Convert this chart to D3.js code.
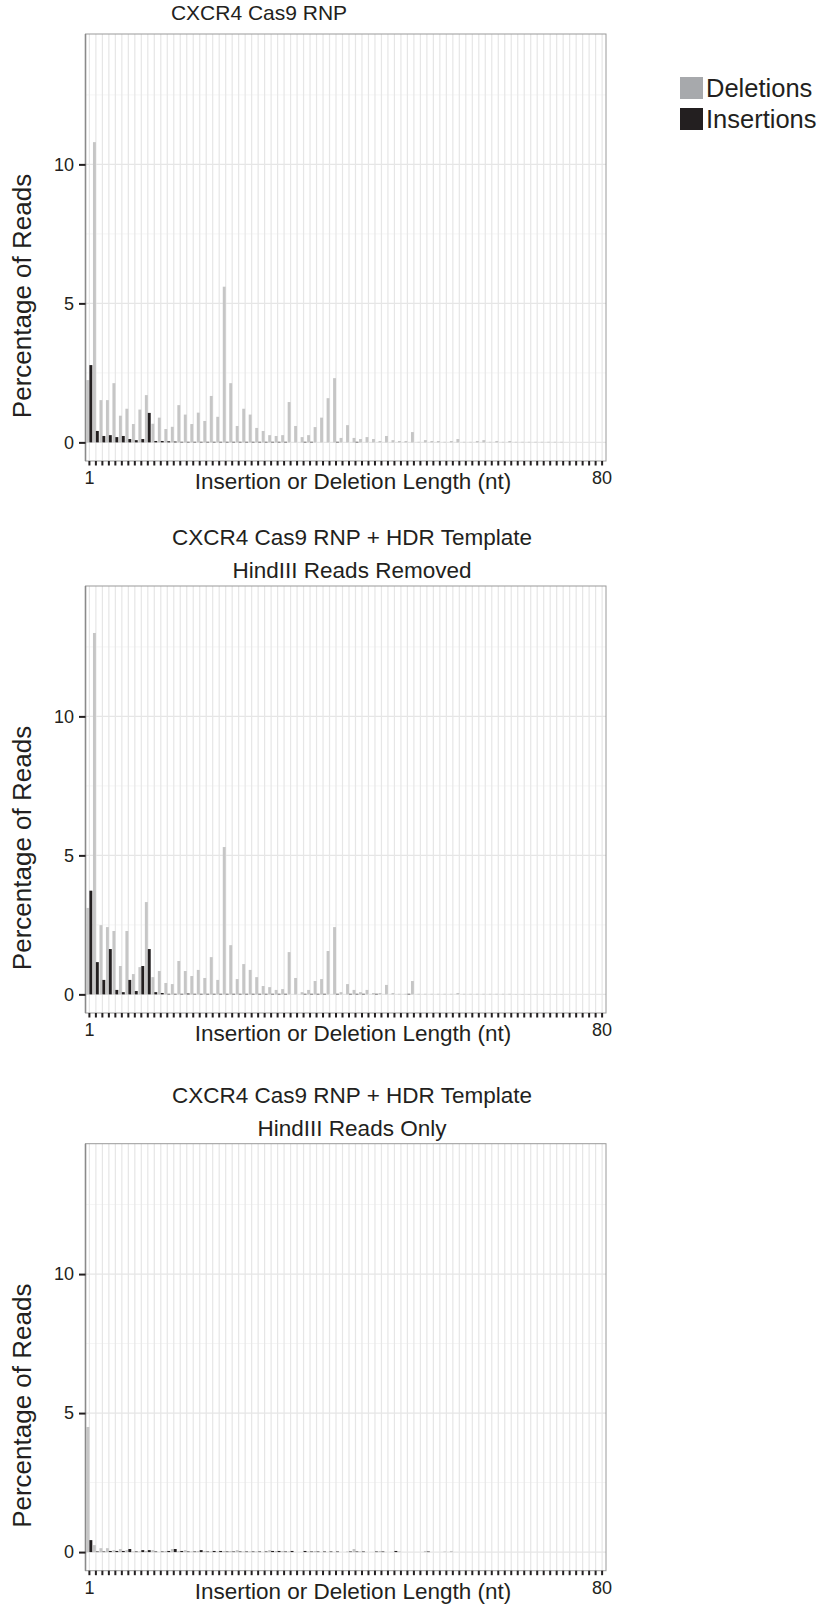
<!DOCTYPE html>
<html>
<head>
  <meta charset="utf-8">
  <script src="https://d3js.org/d3.v7.min.js"></script>
  <style>
    body { margin: 0; background: #fff; }
    text { font-family: "Liberation Sans", Arial, Helvetica, sans-serif; fill: #231f20; }
  </style>
</head>
<body>
<script>
  "use strict";

  // indel lengths 1..80
  var lengths = d3.range(1, 81);
  var yTicks = [0, 5, 10];
  var yMinor = [2.5, 7.5, 12.5];
  var seriesNames = ["Deletions", "Insertions"];

  // panel 1 : CXCR4 Cas9 RNP
  var del1 = [2.24, 10.8, 1.52, 1.52, 2.13, 0.96, 1.21, 0.66, 1.18, 1.70,
              0.67, 0.89, 0.48, 0.56, 1.34, 1.00, 0.66, 1.07, 0.77, 1.67,
              0.92, 5.60, 2.13, 0.59, 1.21, 1.00, 0.52, 0.41, 0.26, 0.23,
              0.26, 1.45, 0.59, 0.19, 0.26, 0.55, 0.89, 1.59, 2.31, 0.16,
              0.62, 0.16, 0.12, 0.19, 0.12, 0.05, 0.23, 0.08, 0.05, 0.05,
              0.37, 0.02, 0.08, 0.05, 0.05, 0.02, 0.05, 0.12, 0.02, 0.02,
              0.05, 0.08, 0.02, 0.05, 0.02, 0.05, 0.02, 0.02, 0.02, 0.02,
              0.02, 0.02, 0.02, 0.02, 0, 0, 0, 0, 0, 0];
  var ins1 = [2.78, 0.41, 0.23, 0.26, 0.19, 0.23, 0.12, 0.08, 0.12, 1.06,
              0.05, 0.05, 0.04, 0.03, 0.02, 0.02, 0.02, 0.02, 0.02, 0.02,
              0.02, 0.02, 0.02, 0.02, 0.02, 0.02, 0.02, 0.02, 0.02, 0.02,
              0.02, 0, 0, 0.02, 0.02, 0, 0, 0, 0.02, 0,
              0, 0.02, 0, 0, 0, 0, 0, 0, 0, 0,
              0, 0, 0, 0, 0, 0, 0, 0, 0, 0,
              0, 0, 0, 0, 0, 0, 0, 0, 0, 0,
              0, 0, 0, 0, 0, 0, 0, 0, 0, 0];

  // panel 2 : + HDR template, HindIII reads removed
  var del2 = [3.11, 13.0, 2.49, 2.42, 2.28, 1.02, 2.28, 0.73, 0.98, 3.32,
              0.62, 0.84, 0.41, 0.37, 1.20, 0.84, 0.66, 0.88, 0.59, 1.34,
              0.52, 5.30, 1.77, 0.55, 1.09, 0.88, 0.62, 0.30, 0.26, 0.16,
              0.19, 1.52, 0.59, 0.08, 0.16, 0.48, 0.55, 1.56, 2.42, 0.08,
              0.37, 0.16, 0.08, 0.16, 0.05, 0.05, 0.34, 0.05, 0.02, 0.02,
              0.48, 0.02, 0.02, 0.02, 0.02, 0.02, 0.02, 0.05, 0.02, 0.02,
              0.02, 0.02, 0.02, 0.02, 0.02, 0.02, 0.01, 0.01, 0.01, 0.01,
              0.01, 0.01, 0.01, 0.01, 0, 0, 0, 0, 0, 0];
  var ins2 = [3.73, 1.16, 0.52, 1.63, 0.16, 0.08, 0.52, 0.12, 1.02, 1.63,
              0.08, 0.05, 0.02, 0.02, 0.02, 0.03, 0.02, 0.02, 0.02, 0.02,
              0.02, 0.02, 0.02, 0.02, 0.02, 0.02, 0.02, 0.02, 0.02, 0.02,
              0.02, 0, 0, 0.02, 0.02, 0.02, 0.02, 0, 0.02, 0,
              0.02, 0.02, 0.02, 0, 0.02, 0, 0, 0, 0, 0.02,
              0, 0, 0, 0, 0, 0, 0, 0, 0, 0,
              0, 0, 0, 0, 0, 0, 0, 0, 0, 0,
              0, 0, 0, 0, 0, 0, 0, 0, 0, 0];

  // panel 3 : + HDR template, HindIII reads only
  var del3 = [4.50, 0.25, 0.14, 0.14, 0.07, 0.11, 0.07, 0.02, 0.02, 0.04,
              0.07, 0, 0.04, 0.11, 0.04, 0.07, 0.02, 0.04, 0.04, 0.02,
              0.02, 0.04, 0.04, 0.07, 0.02, 0.02, 0.02, 0, 0.07, 0.04,
              0.04, 0.02, 0, 0, 0.02, 0.04, 0, 0, 0, 0,
              0.02, 0.11, 0.02, 0, 0, 0.04, 0, 0, 0.02, 0,
              0, 0, 0.04, 0, 0, 0.02, 0.04, 0, 0, 0,
              0, 0, 0, 0, 0, 0, 0, 0, 0, 0,
              0, 0, 0, 0, 0, 0, 0, 0, 0, 0];
  var ins3 = [0.43, 0.02, 0.02, 0.04, 0.04, 0.04, 0.11, 0.02, 0.07, 0.07,
              0.02, 0.02, 0.04, 0.11, 0.04, 0.02, 0.02, 0.07, 0.02, 0.04,
              0.04, 0.02, 0.02, 0.02, 0.02, 0.02, 0.02, 0.02, 0.04, 0.04,
              0.02, 0.04, 0, 0.04, 0.02, 0.02, 0.02, 0.02, 0.02, 0,
              0.02, 0.02, 0.02, 0, 0.02, 0.02, 0, 0.04, 0, 0,
              0, 0, 0.02, 0, 0, 0, 0, 0, 0, 0,
              0, 0, 0, 0, 0, 0, 0, 0, 0, 0,
              0, 0, 0, 0, 0, 0, 0, 0, 0, 0];

  var panels = [
    { title: ["CXCR4 Cas9 RNP"], del: del1, ins: ins1, top: 34, titleY: 20, titleX: 259, titleSize: 21 },
    { title: ["CXCR4 Cas9 RNP + HDR Template", "HindIII Reads Removed"], del: del2, ins: ins2, top: 586, titleY: 545, titleX: 352, titleSize: 22.5 },
    { title: ["CXCR4 Cas9 RNP + HDR Template", "HindIII Reads Only"], del: del3, ins: ins3, top: 1143.7, titleY: 1103, titleX: 352, titleSize: 22.5 }
  ];

  var W = 821, H = 1607;
  var left = 85.5, right = 606, ph = 427;
  var barGrey = "#c6c6c6", barBlack = "#231f20";

  var svg = d3.select("body").append("svg")
      .attr("width", W).attr("height", H);

  var x = d3.scaleBand()
      .domain(lengths)
      .range([left, right])
      .paddingInner(0)
      .paddingOuter(0.1);
  var step = x.step();

  panels.forEach(function(p) {
    var top = p.top, bottom = top + ph;
    var y = d3.scaleLinear().domain([-0.67, 14.69]).range([bottom, top]);
    var g = svg.append("g");

    // grid
    g.selectAll("line.minor").data(yMinor).enter().append("line")
      .attr("x1", left).attr("x2", right)
      .attr("y1", function(d) { return y(d); }).attr("y2", function(d) { return y(d); })
      .attr("stroke", "#f5f5f5").attr("stroke-width", 1);
    g.selectAll("line.vgrid").data(lengths).enter().append("line")
      .attr("x1", function(d) { return x(d) + step / 2; })
      .attr("x2", function(d) { return x(d) + step / 2; })
      .attr("y1", top).attr("y2", bottom)
      .attr("stroke", "#e6e6e6").attr("stroke-width", 1.2);
    g.selectAll("line.major").data(yTicks).enter().append("line")
      .attr("x1", left).attr("x2", right)
      .attr("y1", function(d) { return y(d); }).attr("y2", function(d) { return y(d); })
      .attr("stroke", "#e6e6e6").attr("stroke-width", 1.2);

    // bars
    g.selectAll("rect.del").data(p.del).enter().append("rect")
      .attr("x", function(d, i) { return x(lengths[i]) + step * 0.05; })
      .attr("width", step * 0.45)
      .attr("y", function(d) { return y(d); })
      .attr("height", function(d) { return y(0) - y(d); })
      .attr("fill", barGrey);
    g.selectAll("rect.ins").data(p.ins).enter().append("rect")
      .attr("x", function(d, i) { return x(lengths[i]) + step * 0.5; })
      .attr("width", step * 0.45)
      .attr("y", function(d) { return y(d); })
      .attr("height", function(d) { return y(0) - y(d); })
      .attr("fill", barBlack);

    // border
    g.append("rect")
      .attr("x", left).attr("y", top).attr("width", right - left).attr("height", ph)
      .attr("fill", "none").attr("stroke", "#9a9a9a").attr("stroke-width", 1);
    g.append("line")
      .attr("x1", left).attr("x2", left).attr("y1", top).attr("y2", bottom)
      .attr("stroke", "#8a8a8a").attr("stroke-width", 1.6);

    // y axis
    var ya = g.append("g").attr("transform", "translate(" + left + ",0)")
      .call(d3.axisLeft(y).tickValues(yTicks).tickSize(6.5).tickPadding(5).tickFormat(d3.format("d")));
    ya.select(".domain").remove();
    ya.selectAll(".tick line").attr("stroke", "#231f20").attr("stroke-width", 2);
    ya.selectAll(".tick text").style("font-size", "18px").attr("fill", "#231f20");

    // x axis
    var xa = g.append("g").attr("transform", "translate(0," + bottom + ")")
      .call(d3.axisBottom(x).tickSize(4.5).tickPadding(6)
        .tickFormat(function(d) { return (d === 1 || d === 80) ? d : ""; }));
    xa.select(".domain").remove();
    xa.selectAll(".tick line").attr("stroke", "#231f20").attr("stroke-width", 2);
    xa.selectAll(".tick text").style("font-size", "18px").attr("fill", "#231f20");

    // titles
    g.selectAll("text.ptitle").data(p.title).enter().append("text")
      .attr("x", p.titleX)
      .attr("y", function(d, i) { return p.titleY + i * 33; })
      .attr("text-anchor", "middle")
      .style("font-size", p.titleSize + "px")
      .text(function(d) { return d; });

    g.append("text")
      .attr("x", 353).attr("y", bottom + 28)
      .attr("text-anchor", "middle")
      .style("font-size", "22.5px")
      .text("Insertion or Deletion Length (nt)");

    g.append("text")
      .attr("transform", "translate(31," + (top + 262) + ") rotate(-90)")
      .attr("text-anchor", "middle")
      .style("font-size", "26px")
      .text("Percentage of Reads");
  });

  // legend
  var legColors = ["#a7a9ac", "#231f20"];
  var leg = svg.append("g");
  leg.selectAll("rect").data(seriesNames).enter().append("rect")
    .attr("x", 680).attr("y", function(d, i) { return 77 + i * 31; })
    .attr("width", 23).attr("height", 22)
    .attr("fill", function(d, i) { return legColors[i]; });
  leg.selectAll("text").data(seriesNames).enter().append("text")
    .attr("x", 706).attr("y", function(d, i) { return 97 + i * 31; })
    .style("font-size", "25.5px")
    .text(function(d) { return d; });
</script>
</body>
</html>
